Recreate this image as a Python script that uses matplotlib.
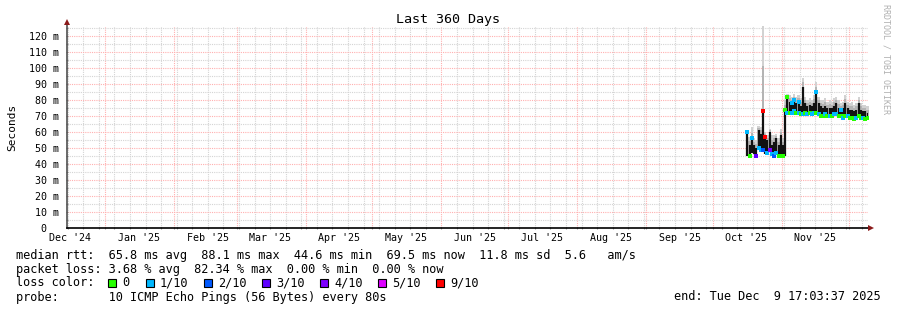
import datetime as dt
import numpy as np
import matplotlib
matplotlib.use("Agg")
import matplotlib.pyplot as plt
import matplotlib.dates as mdates
from matplotlib.ticker import MultipleLocator, FuncFormatter, NullFormatter
from matplotlib.patches import Rectangle
from matplotlib.lines import Line2D

# ---- data (ms), one entry per day from 2025-10-16 to 2025-12-09 ----
first_day = dt.datetime(2025, 10, 16)
med_lo = [45, 45, 47, 46, 45, 50, 49, 49, 46, 47, 49, 46, 45, 47, 45, 45, 45, 45,
          72, 72, 72, 73, 72, 72, 71, 71, 72, 71, 72, 71, 72, 72, 71, 70, 70, 71,
          70, 70, 70, 71, 71, 70, 70, 69, 70, 70, 69, 69, 68, 69, 70, 69, 69, 68, 69]
med_hi = [60, 52, 56, 52, 50, 61, 59, 73, 57, 55, 60, 52, 54, 56, 52, 58, 52, 74,
          82, 79, 78, 80, 78, 79, 76, 88, 78, 76, 77, 76, 78, 85, 78, 76, 75, 76,
          75, 75, 75, 76, 78, 75, 74, 75, 78, 75, 74, 74, 73, 74, 78, 74, 73, 73, 72]
smoke_hi = [61, 57, 63, 56, 55, 64, 63, 130, 60, 58, 62, 58, 58, 59, 56, 62, 56, 80,
            84, 83, 82, 84, 82, 83, 81, 94, 82, 80, 81, 80, 83, 91, 82, 80, 80, 81,
            79, 80, 79, 81, 82, 80, 78, 79, 83, 79, 78, 79, 77, 78, 82, 78, 77, 77, 76]
# loss colour index at the low / high median of each day (-1 = no mark)
loss_lo = [-1, 0, -1, -1, 3, 1, 1, 2, -1, 1, 4, 1, 2, 1, 0, 0, 0, -1,
           1, 0, 1, 1, 0, 1, 0, 1, 0, 1, 0, 1, 1, 0, 1, 0, 0, 1,
           0, 1, 0, 1, 1, 0, 0, 1, 0, 1, 0, 0, 0, 1, 0, 0, 1, 0, 0]
loss_hi = [1, -1, 1, -1, -1, -1, -1, 6, 6, -1, -1, -1, -1, -1, -1, -1, -1, 0,
           0, -1, 1, 1, -1, 1, -1, -1, -1, -1, -1, -1, -1, 1, -1, -1, -1, -1,
           -1, -1, -1, -1, -1, -1, 1, -1, -1, -1, -1, -1, -1, -1, -1, -1, -1, -1, -1]

loss_names = ["0", "1/10", "2/10", "3/10", "4/10", "5/10", "9/10"]
loss_colors = ["#26ff00", "#00b8ff", "#0059ff", "#5e00ff", "#7e00ff", "#dd00ff", "#ff0000"]

start = dt.datetime(2024, 12, 14, 17, 3, 37)
end = dt.datetime(2025, 12, 9, 17, 3, 37)

# ---- figure ----
W, H = 897, 310
fig = plt.figure(figsize=(W / 100, H / 100), dpi=100)
fig.patch.set_facecolor("white")
mono = "DejaVu Sans Mono"


def fx(px):
    return px / W


def fy(py):
    return 1 - py / H


ax = fig.add_axes([fx(67), fy(228), fx(868) - fx(67), fy(26) - fy(228)])
ax.set_xlim(start, end)
ax.set_ylim(0, 126.25)

# grid
ax.xaxis.set_major_locator(mdates.MonthLocator())
ax.xaxis.set_minor_locator(mdates.WeekdayLocator(byweekday=mdates.SU))
ax.xaxis.set_major_formatter(NullFormatter())
ax.yaxis.set_major_locator(MultipleLocator(10))
ax.yaxis.set_minor_locator(MultipleLocator(5))
ax.yaxis.set_major_formatter(FuncFormatter(lambda v, p: f"{int(v)} m" if v else "0  "))
ax.grid(which="minor", color="#d4d4d4", ls=(0, (1, 1)), lw=0.8)
ax.grid(which="major", color="#ffb0b0", ls=(0, (1, 1)), lw=0.8)
ax.set_axisbelow(True)
for s in ax.spines.values():
    s.set_visible(False)
ax.tick_params(which="both", length=2, width=0.8, color="#999999", direction="inout")
ax.tick_params(axis="y", labelsize=7.2, pad=5)
for lab in ax.get_yticklabels():
    lab.set_family(mono)
ax.set_ylabel("Seconds", family=mono, fontsize=8, labelpad=8)

# month labels centred half a month after each month start
m = dt.datetime(2024, 12, 1)
while m < end:
    c = m + dt.timedelta(days=15)
    if start <= c <= end:
        ax.text(c, -0.027, c.strftime("%b '%y"), transform=ax.get_xaxis_transform(),
                ha="center", va="top", family=mono, fontsize=7.2)
    m = dt.datetime(m.year + (m.month == 12), m.month % 12 + 1, 1)

# ---- data drawing ----
n = len(med_lo)
days = [first_day + dt.timedelta(days=i) for i in range(n + 1)]
ax.fill_between(days, med_lo + [med_lo[-1]], smoke_hi + [smoke_hi[-1]], step="post",
                color="#d2d2d2", lw=0)
inner = [(a + b) / 2 for a, b in zip(med_hi, smoke_hi)]
ax.fill_between(days, med_lo + [med_lo[-1]], inner + [inner[-1]], step="post",
                color="#b4b4b4", lw=0)

mid = [d + dt.timedelta(hours=12) for d in days[:-1]]
ax.vlines(mid, med_lo, med_hi, color="#111111", lw=1.6)

for i in range(n):
    if loss_lo[i] >= 0:
        ax.plot(mid[i], med_lo[i], "s", ms=2.2, mew=0, color=loss_colors[loss_lo[i]])
    if loss_hi[i] >= 0:
        ax.plot(mid[i], med_hi[i], "s", ms=2.2, mew=0, color=loss_colors[loss_hi[i]])

# ---- axes lines with arrows ----
fig.add_artist(Line2D([fx(67), fx(67)], [fy(228), fy(22)], color="#505050", lw=1.2))
fig.add_artist(Line2D([fx(67), fx(871)], [fy(228), fy(228)], color="#000000", lw=1.2))
fig.add_artist(Line2D([fx(67)], [fy(22)], marker="^", ms=4, color="#8b1a1a", mew=0))
fig.add_artist(Line2D([fx(871)], [fy(228)], marker=">", ms=4, color="#8b1a1a", mew=0))

# ---- titles and legend ----
fig.text(fx(448), fy(19), "Last 360 Days", ha="center", va="center", family=mono, fontsize=9.6)
fig.text(fx(886), fy(4), "RRDTOOL / TOBI OETIKER", ha="center", va="top", rotation=270,
         family=mono, fontsize=6, color="#b0b0b0")

fs = 8.55
fig.text(fx(16), fy(255), "median rtt:  65.8 ms avg  88.1 ms max  44.6 ms min  69.5 ms now  "
         "11.8 ms sd  5.6   am/s", va="center", family=mono, fontsize=fs)
fig.text(fx(16), fy(269), "packet loss: 3.68 % avg  82.34 % max  0.00 % min  0.00 % now",
         va="center", family=mono, fontsize=fs)
fig.text(fx(16), fy(283), "loss color:", va="center", family=mono, fontsize=fs)
sq_x = [108, 146, 204, 262, 320, 378, 436]
for x0, name, col in zip(sq_x, loss_names, loss_colors):
    fig.add_artist(Rectangle((fx(x0), fy(287)), 8 / W, 8 / H, facecolor=col,
                             edgecolor="black", lw=0.8, transform=fig.transFigure))
    fig.text(fx(x0 + 14), fy(283), name, va="center", family=mono, fontsize=fs)
fig.text(fx(16), fy(297), "probe:       10 ICMP Echo Pings (56 Bytes) every 80s",
         va="center", family=mono, fontsize=fs)
fig.text(fx(881), fy(297), "end: Tue Dec  9 17:03:37 2025", ha="right", va="center",
         family=mono, fontsize=fs)

fig.savefig("out.png", dpi=100)
